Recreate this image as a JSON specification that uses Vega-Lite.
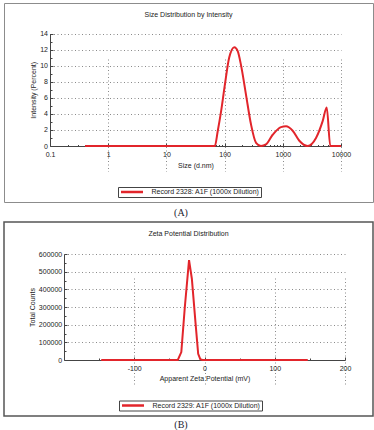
{
  "$schema": "https://vega.github.io/schema/vega-lite/v6.json",
  "background": "white",
  "padding": {"left": 3, "top": 2, "right": 2, "bottom": 0},
  "autosize": {"type": "pad"},
  "spacing": 3,
  "resolve": {"scale": {"color": "independent"}, "legend": {"color": "independent"}},
  "config": {
    "font": "Liberation Sans",
    "view": {"stroke": "#8c8c8c", "strokeWidth": 1, "fill": "white"},
    "axis": {
      "labelFont": "Liberation Sans",
      "titleFont": "Liberation Sans",
      "labelFontSize": 7,
      "titleFontSize": 7,
      "titleFontWeight": "normal",
      "labelColor": "#222",
      "titleColor": "#222",
      "domainColor": "#444",
      "tickColor": "#444",
      "gridColor": "#8a8a8a",
      "gridDash": [1, 2.5],
      "grid": true,
      "labelOverlap": false,
      "labelFlush": false
    },
    "title": {"font": "Liberation Sans", "fontSize": 7, "fontWeight": "normal", "color": "#222"},
    "legend": {"labelFont": "Liberation Sans"}
  },
  "vconcat": [
    {
      "title": {"text": "(A)", "orient": "bottom", "anchor": "middle", "frame": "bounds", "offset": 5, "font": "Liberation Serif", "fontSize": 10, "fontWeight": "normal", "color": "#1c1c30", "dx": -7.5},
      "vconcat": [
        {
          "width": 369,
          "height": 199,
          "title": {"text": "Size Distribution by Intensity", "offset": -14.5, "anchor": "middle"},
          "data": {
            "values": [
              {"size": 0.4, "intensity": 0},
              {"size": 68, "intensity": 0},
              {"size": 76, "intensity": 1.8},
              {"size": 87, "intensity": 4.3},
              {"size": 101, "intensity": 7.6},
              {"size": 120, "intensity": 11.0},
              {"size": 147, "intensity": 12.3},
              {"size": 168, "intensity": 11.8},
              {"size": 191, "intensity": 10.1},
              {"size": 233, "intensity": 6.4},
              {"size": 284, "intensity": 2.7},
              {"size": 347, "intensity": 0.4},
              {"size": 422, "intensity": 0},
              {"size": 514, "intensity": 0.2},
              {"size": 670, "intensity": 1.4},
              {"size": 931, "intensity": 2.35},
              {"size": 1135, "intensity": 2.45},
              {"size": 1479, "intensity": 1.9},
              {"size": 1923, "intensity": 0.65},
              {"size": 2673, "intensity": 0},
              {"size": 3720, "intensity": 1.0},
              {"size": 4840, "intensity": 3.1},
              {"size": 5680, "intensity": 4.8},
              {"size": 6550, "intensity": 0},
              {"size": 10000, "intensity": 0}
            ]
          },
          "mark": {"type": "line", "strokeWidth": 2, "interpolate": "monotone"},
          "encoding": {
            "x": {
              "field": "size",
              "type": "quantitative",
              "scale": {"type": "log", "domain": [0.1, 10000], "range": [46, 337], "nice": false},
              "axis": {
                "title": "Size (d.nm)",
                "offset": -56,
                "values": [0.1, 0.2, 0.3, 0.4, 0.5, 0.6, 0.7, 0.8, 0.9, 1, 2, 3, 4, 5, 6, 7, 8, 9, 10, 20, 30, 40, 50, 60, 70, 80, 90, 100, 200, 300, 400, 500, 600, 700, 800, 900, 1000, 2000, 3000, 4000, 5000, 6000, 7000, 8000, 9000, 10000],
                "labelExpr": "indexof([0.1, 1, 10, 100, 1000, 10000], datum.value) >= 0 ? toString(datum.value) : ''",
                "gridOpacity": {"condition": {"test": "indexof([1, 10, 100, 1000, 10000], datum.value) >= 0", "value": 1}, "value": 0},
                "tickSize": {"condition": {"test": "indexof([0.1, 1, 10, 100, 1000, 10000], datum.value) >= 0", "value": -3}, "value": -1.5},
                "labelPadding": 7,
                "titlePadding": 3
              }
            },
            "y": {
              "field": "intensity",
              "type": "quantitative",
              "scale": {"domain": [0, 14], "range": [143, 30.5], "nice": false, "zero": false},
              "axis": {
                "title": "Intensity (Percent)",
                "offset": -46,
                "values": [0, 1, 2, 3, 4, 5, 6, 7, 8, 9, 10, 11, 12, 13, 14],
                "labelExpr": "datum.value % 2 == 0 ? toString(datum.value) : ''",
                "gridOpacity": {"condition": {"test": "datum.value % 2 == 0 && datum.value > 0", "value": 1}, "value": 0},
                "tickSize": {"condition": {"test": "datum.value % 2 == 0", "value": -3}, "value": -2},
                "labelPadding": 5.5,
                "titlePadding": 3.5
              }
            },
            "color": {
              "datum": "Record 2328: A1F (1000x Dilution)",
              "type": "nominal",
              "scale": {"range": ["#e2252b"]},
              "legend": {
                "orient": "none",
                "legendX": 114,
                "legendY": 184,
                "title": null,
                "symbolType": "stroke",
                "symbolSize": 484,
                "symbolStrokeWidth": 2.5,
                "clipHeight": 7,
                "padding": 1.5,
                "strokeColor": "#444",
                "fillColor": "white",
                "labelFontSize": 7,
                "labelOffset": 7,
                "labelColor": "#222",
                "labelLimit": 0
              }
            }
          }
        }
      ]
    },
    {
      "title": {"text": "(B)", "orient": "bottom", "anchor": "middle", "frame": "bounds", "offset": 3, "font": "Liberation Serif", "fontSize": 10, "fontWeight": "normal", "color": "#1c1c30", "dx": -7.5},
      "vconcat": [
        {
          "width": 369,
          "height": 194,
          "view": {"stroke": "#555", "strokeWidth": 1.5},
          "title": {"text": "Zeta Potential Distribution", "offset": -15, "anchor": "middle"},
          "data": {
            "values": [
              {"zeta": -147, "counts": 0},
              {"zeta": -38, "counts": 0},
              {"zeta": -33, "counts": 45000},
              {"zeta": -28, "counts": 300000},
              {"zeta": -22, "counts": 565000},
              {"zeta": -18, "counts": 460000},
              {"zeta": -13, "counts": 220000},
              {"zeta": -9, "counts": 35000},
              {"zeta": -6, "counts": 5000},
              {"zeta": -3, "counts": 0},
              {"zeta": 147, "counts": 0}
            ]
          },
          "mark": {"type": "line", "strokeWidth": 2},
          "encoding": {
            "x": {
              "field": "zeta",
              "type": "quantitative",
              "scale": {"domain": [-200, 200], "range": [60, 341], "nice": false, "zero": false},
              "axis": {
                "title": "Apparent Zeta Potential (mV)",
                "offset": -56,
                "values": [-150, -100, -50, 0, 50, 100, 150, 200],
                "labelExpr": "datum.value % 100 == 0 ? toString(datum.value) : ''",
                "gridOpacity": {"condition": {"test": "datum.value % 100 == 0", "value": 1}, "value": 0},
                "tickSize": {"condition": {"test": "datum.value % 100 == 0", "value": -3}, "value": -2},
                "labelPadding": 7,
                "titlePadding": 2
              }
            },
            "y": {
              "field": "counts",
              "type": "quantitative",
              "scale": {"domain": [0, 600000], "range": [138, 32], "nice": false, "zero": false},
              "axis": {
                "title": "Total Counts",
                "offset": -60,
                "values": [0, 50000, 100000, 150000, 200000, 250000, 300000, 350000, 400000, 450000, 500000, 550000, 600000],
                "labelExpr": "datum.value % 100000 == 0 ? toString(datum.value) : ''",
                "gridOpacity": {"condition": {"test": "datum.value % 100000 == 0 && datum.value > 0", "value": 1}, "value": 0},
                "tickSize": {"condition": {"test": "datum.value % 100000 == 0", "value": -3}, "value": -2},
                "labelPadding": 5.3,
                "titlePadding": 2.5
              }
            },
            "color": {
              "datum": "Record 2329: A1F (1000x Dilution)",
              "type": "nominal",
              "scale": {"range": ["#e2252b"]},
              "legend": {
                "orient": "none",
                "legendX": 115,
                "legendY": 178.5,
                "title": null,
                "symbolType": "stroke",
                "symbolSize": 484,
                "symbolStrokeWidth": 2.5,
                "clipHeight": 7,
                "padding": 1.5,
                "strokeColor": "#444",
                "fillColor": "white",
                "labelFontSize": 7,
                "labelOffset": 7,
                "labelColor": "#222",
                "labelLimit": 0
              }
            }
          }
        }
      ]
    }
  ]
}
